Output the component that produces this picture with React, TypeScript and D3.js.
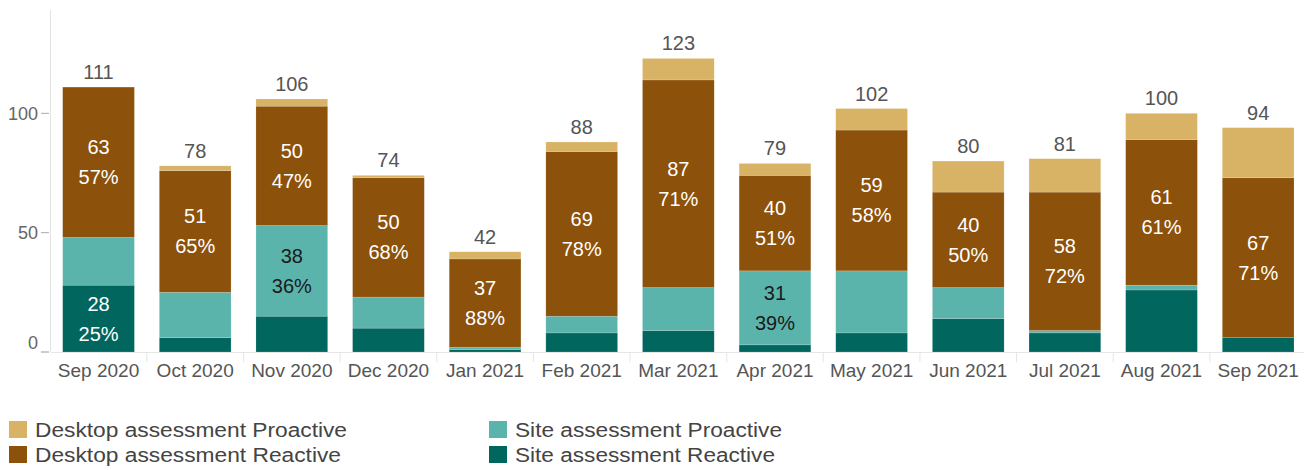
import React from "react";
import * as d3 from "d3";

const categories = ["Sep 2020","Oct 2020","Nov 2020","Dec 2020","Jan 2021","Feb 2021","Mar 2021","Apr 2021","May 2021","Jun 2021","Jul 2021","Aug 2021","Sep 2021"];
const siteReactive =     [28, 6, 15, 10, 1, 8, 9, 3, 8, 14, 8, 26, 6];
const siteProactive =    [20, 19, 38, 13, 1, 7, 18, 31, 26, 13, 1, 2, 0];
const desktopReactive =  [63, 51, 50, 50, 37, 69, 87, 40, 59, 40, 58, 61, 67];
const desktopProactive = [0, 2, 3, 1, 3, 4, 9, 5, 9, 13, 14, 11, 21];
const yTicks = [0, 50, 100];

const seriesKeys = ["siteReactive", "siteProactive", "desktopReactive", "desktopProactive"];
const seriesNames: Record<string, string> = {
  desktopProactive: "Desktop assessment Proactive",
  desktopReactive: "Desktop assessment Reactive",
  siteProactive: "Site assessment Proactive",
  siteReactive: "Site assessment Reactive",
};
const colors: Record<string, string> = {
  desktopProactive: "#d8b365",
  desktopReactive: "#8c510a",
  siteProactive: "#5ab4ac",
  siteReactive: "#01665e",
};
const labelColor: Record<string, string> = {
  desktopProactive: "#222",
  desktopReactive: "#fff",
  siteProactive: "#1a1a1a",
  siteReactive: "#fff",
};

const W = 1304, H = 470;
const FONT = "'Liberation Sans', Arial, sans-serif";

export default function App() {
  const rows = categories.map((c, i) => ({
    cat: c,
    siteReactive: siteReactive[i],
    siteProactive: siteProactive[i],
    desktopReactive: desktopReactive[i],
    desktopProactive: desktopProactive[i],
  }));
  const stack = d3.stack<any>().keys(seriesKeys)(rows);
  const totals = rows.map(r => seriesKeys.reduce((s, k) => s + (r as any)[k], 0));

  const x = d3.scaleBand<string>().domain(categories).range([51, 1305.7]).paddingInner(0.258).paddingOuter(0.121);
  const y = d3.scaleLinear().domain([0, 143.3]).range([352, 10]);
  const bw = x.bandwidth();
  const step = x.step();

  const legend = [
    { key: "desktopProactive", x: 9, y: 421, tl: 312 },
    { key: "desktopReactive", x: 9, y: 446, tl: 306 },
    { key: "siteProactive", x: 489, y: 421, tl: 267 },
    { key: "siteReactive", x: 489, y: 446, tl: 260 },
  ];

  return (
    <svg width={W} height={H} style={{ position: "absolute", left: 0, top: 0, background: "#fff" }} fontFamily={FONT}>
      {/* y axis */}
      <line x1={50.5} x2={50.5} y1={10} y2={352} stroke="#e3e3e3" strokeWidth={1} />
      {yTicks.map(t => (
        <g key={t}>
          <line x1={41} x2={49} y1={y(t)} y2={y(t)} stroke={t === 0 ? "#999" : "#aaa"} strokeWidth={1} />
          <text x={38} y={t === 0 ? y(t) - 3 : y(t) + 6.5} textAnchor="end" fontSize={18} fill="#666">{t}</text>
        </g>
      ))}
      {/* baseline */}
      <line x1={51} x2={1304} y1={352.5} y2={352.5} stroke="#e6e6e6" strokeWidth={1} />
      {categories.map((c, i) => i > 0 ? (
        <line key={"sep" + c} x1={(x(c) as number) - (step - bw) / 2} x2={(x(c) as number) - (step - bw) / 2} y1={353} y2={362} stroke="#e6e6e6" strokeWidth={1} />
      ) : null)}
      {/* bars */}
      {stack.map(s => (
        <g key={s.key}>
          {s.map((d, i) => {
            const h = y(d[0]) - y(d[1]);
            if (h <= 0) return null;
            return (
              <rect key={i} x={x(categories[i])} y={y(d[1])} width={bw} height={h} fill={colors[s.key]} stroke="#ffffff" strokeOpacity={0.25} strokeWidth={0.6} />
            );
          })}
        </g>
      ))}
      {/* segment labels */}
      {stack.map(s => s.map((d, i) => {
        const v = d[1] - d[0];
        if (v < 27) return null;
        const mid = (y(d[0]) + y(d[1])) / 2;
        const cx = (x(categories[i]) as number) + bw / 2;
        const pct = Math.round((v / totals[i]) * 100);
        return (
          <g key={s.key + i} fill={labelColor[s.key]} fontSize={20} textAnchor="middle">
            <text x={cx} y={mid - 8}>{v}</text>
            <text x={cx} y={mid + 22}>{pct}%</text>
          </g>
        );
      }))}
      {/* totals */}
      {totals.map((t, i) => (
        <text key={"t" + i} x={(x(categories[i]) as number) + bw / 2} y={y(t) - 8} textAnchor="middle" fontSize={20} fill="#555">{t}</text>
      ))}
      {/* x labels */}
      {categories.map(c => (
        <text key={"x" + c} x={(x(c) as number) + bw / 2} y={377} textAnchor="middle" fontSize={19} fill="#555">{c}</text>
      ))}
      {/* legend */}
      {legend.map(l => (
        <g key={l.key}>
          <rect x={l.x} y={l.y} width={18} height={17} fill={colors[l.key]} />
          <text x={l.x + 26} y={l.y + 16} fontSize={20} fill="#444" textLength={l.tl} lengthAdjust="spacingAndGlyphs">{seriesNames[l.key]}</text>
        </g>
      ))}
    </svg>
  );
}
